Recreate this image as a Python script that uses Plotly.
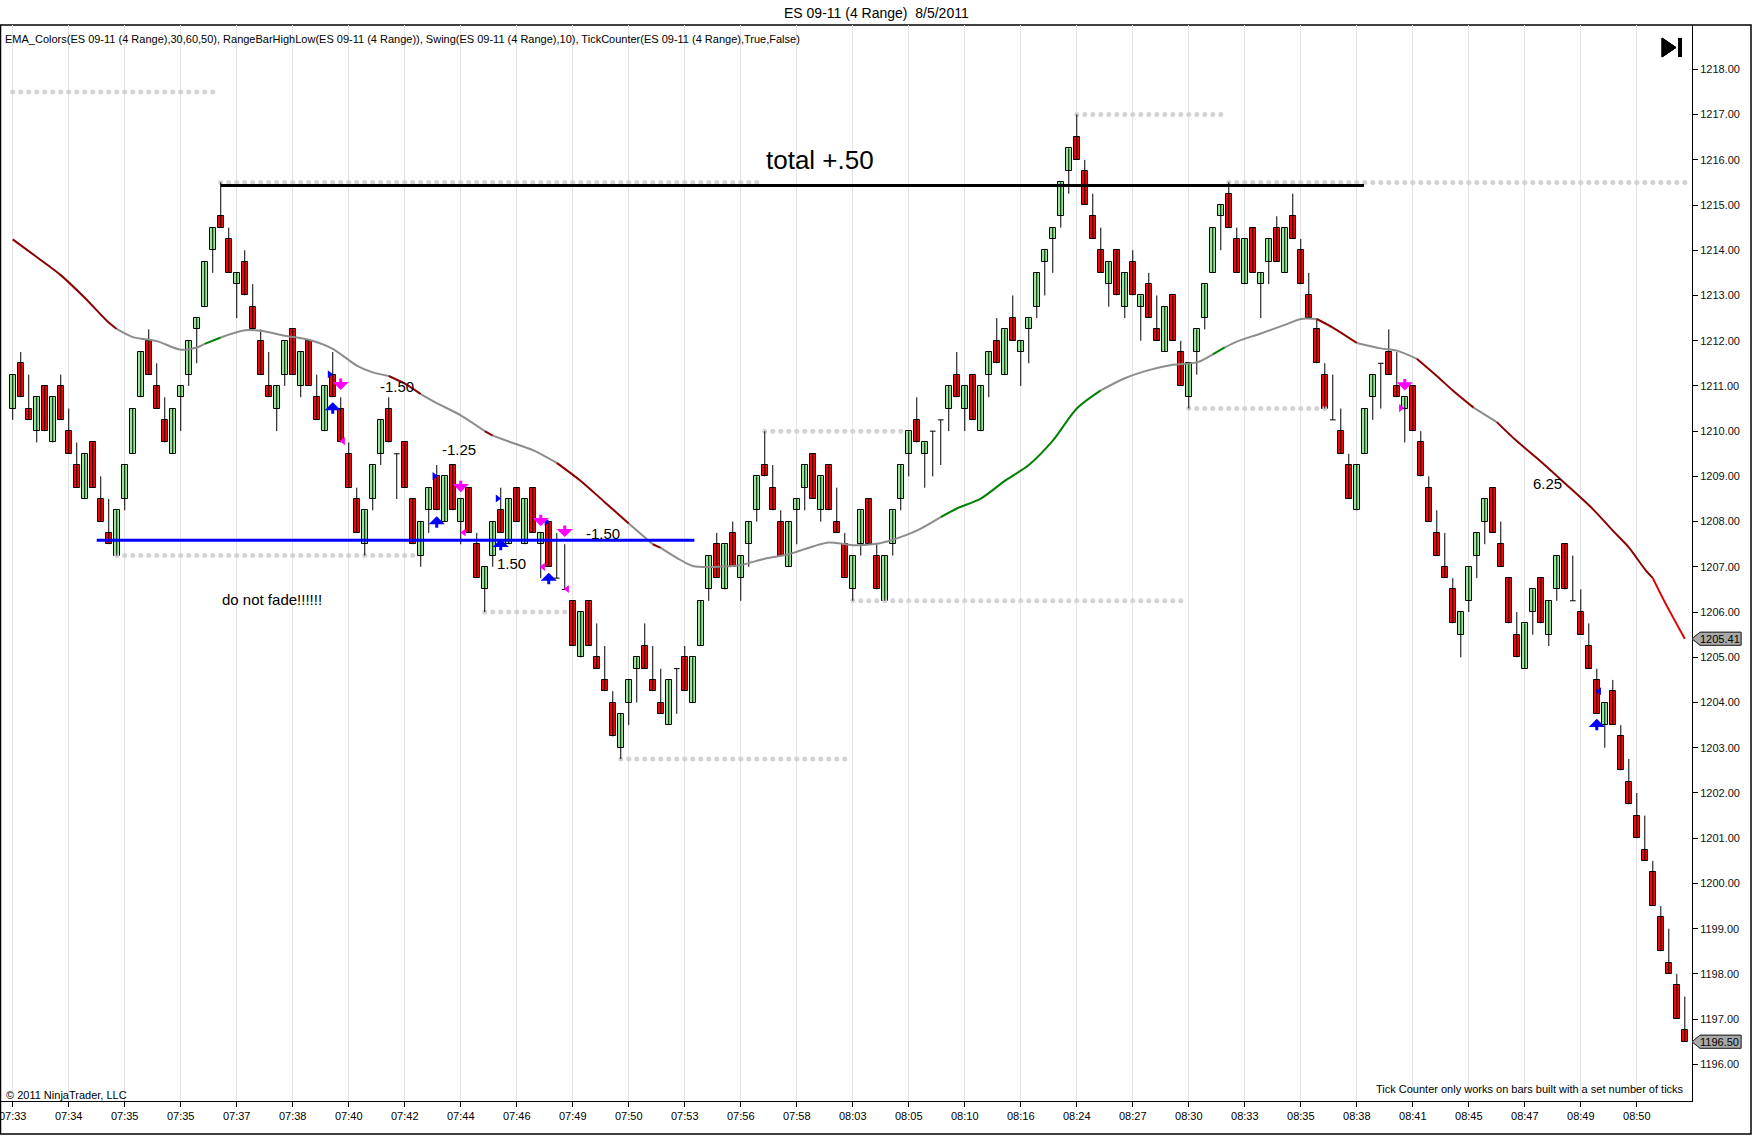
import plotly.graph_objects as go

# ---------------- data ----------------
opens = [1210.5, 1211.5, 1210.5, 1210.0, 1211.0, 1209.75, 1211.0, 1210.0, 1209.25, 1208.5,
         1209.75, 1208.5, 1207.75, 1207.25, 1208.5, 1209.5, 1210.75, 1212.0, 1211.0, 1210.25,
         1209.5, 1210.75, 1211.25, 1212.25, 1212.75, 1214.0, 1214.75, 1214.25, 1213.25, 1213.75,
         1212.75, 1212.0, 1211.0, 1210.5, 1211.25, 1212.25, 1211.0, 1212.0, 1210.75, 1210.0,
         1211.25, 1210.5, 1209.5, 1208.5, 1207.5, 1208.5, 1209.5, 1210.5, 1209.5, 1209.75,
         1208.5, 1207.25, 1208.25, 1209.0, 1208.0, 1209.25, 1208.0, 1208.75, 1207.5, 1206.5,
         1207.25, 1208.25, 1207.5, 1208.75, 1207.5, 1208.75, 1207.5, 1208.0, 1206.75, 1206.5,
         1206.25, 1205.0, 1206.25, 1205.0, 1204.5, 1204.0, 1203.0, 1204.0, 1204.75, 1205.25,
         1204.5, 1204.0, 1203.5, 1204.75, 1205.0, 1204.0, 1205.25, 1206.5, 1207.5, 1206.5,
         1207.75, 1206.75, 1207.5, 1208.25, 1209.25, 1208.75, 1208.0, 1207.0, 1208.25, 1208.75,
         1209.5, 1208.25, 1209.25, 1208.0, 1207.5, 1206.5, 1207.5, 1208.5, 1207.25, 1206.25,
         1207.5, 1208.5, 1209.5, 1210.25, 1209.5, 1210.0, 1210.25, 1210.5, 1211.25, 1210.5,
         1211.25, 1210.0, 1211.25, 1212.0, 1211.25, 1212.5, 1211.75, 1212.25, 1212.75, 1213.75,
         1214.25, 1214.75, 1215.75, 1216.5, 1215.75, 1214.75, 1214.0, 1213.25, 1214.0, 1212.75,
         1213.75, 1212.75, 1213.25, 1212.25, 1211.75, 1213.0, 1211.75, 1210.75, 1211.75, 1212.5,
         1213.5, 1214.75, 1215.25, 1214.25, 1213.25, 1214.5, 1213.25, 1213.75, 1214.5, 1213.5,
         1214.75, 1214.0, 1213.0, 1212.25, 1211.25, 1210.25, 1210.0, 1209.25, 1208.25, 1209.5,
         1210.75, 1211.5, 1211.75, 1211.0, 1210.5, 1211.0, 1209.75, 1208.75, 1207.75, 1207.0,
         1206.5, 1205.5, 1206.25, 1207.25, 1208.0, 1208.75, 1207.5, 1206.75, 1205.5, 1204.75,
         1206.0, 1206.75, 1205.5, 1206.5, 1207.5, 1206.25, 1206.0, 1205.25, 1204.5, 1203.5,
         1204.25, 1203.25, 1202.25, 1201.5, 1200.75, 1200.25, 1199.25, 1198.25, 1197.75, 1196.75]
highs = [1211.25, 1211.75, 1211.25, 1210.75, 1211.0, 1210.75, 1211.25, 1210.5, 1209.75, 1209.5,
         1209.75, 1209.0, 1208.5, 1208.25, 1209.25, 1210.5, 1211.75, 1212.25, 1211.5, 1210.75,
         1210.5, 1211.0, 1212.0, 1212.5, 1213.75, 1214.5, 1215.5, 1214.5, 1213.5, 1214.0,
         1213.25, 1212.25, 1211.75, 1211.0, 1212.0, 1212.25, 1211.75, 1212.0, 1211.25, 1211.0,
         1211.75, 1210.75, 1209.75, 1208.75, 1208.25, 1209.25, 1210.25, 1210.75, 1209.5, 1209.75,
         1208.5, 1208.0, 1208.75, 1209.25, 1209.0, 1209.25, 1208.5, 1208.75, 1207.75, 1207.0,
         1208.0, 1208.75, 1208.5, 1208.75, 1208.5, 1208.75, 1207.75, 1208.0, 1207.75, 1207.5,
         1206.25, 1206.0, 1206.25, 1205.75, 1205.25, 1204.25, 1203.75, 1204.5, 1205.0, 1205.75,
         1205.25, 1204.75, 1204.5, 1204.75, 1205.25, 1205.0, 1206.25, 1207.25, 1207.75, 1207.5,
         1208.0, 1207.25, 1208.0, 1209.0, 1210.0, 1209.25, 1208.25, 1208.0, 1208.5, 1209.25,
         1209.5, 1209.0, 1209.25, 1208.75, 1207.75, 1207.25, 1208.25, 1208.5, 1207.5, 1207.25,
         1208.25, 1209.25, 1210.0, 1210.75, 1209.75, 1210.0, 1210.25, 1211.0, 1211.75, 1211.0,
         1211.25, 1211.0, 1211.75, 1212.5, 1212.25, 1213.0, 1212.0, 1212.5, 1213.5, 1214.0,
         1214.5, 1215.5, 1216.25, 1217.0, 1216.0, 1215.25, 1214.5, 1213.75, 1214.0, 1213.5,
         1214.0, 1213.0, 1213.5, 1213.0, 1212.75, 1213.0, 1212.0, 1211.5, 1212.25, 1213.25,
         1214.5, 1215.0, 1215.5, 1214.5, 1214.25, 1214.5, 1213.5, 1214.25, 1214.75, 1214.5,
         1215.25, 1214.25, 1213.5, 1212.5, 1211.5, 1211.25, 1210.5, 1209.5, 1209.25, 1210.5,
         1211.25, 1211.5, 1212.25, 1211.75, 1210.75, 1211.0, 1210.0, 1209.0, 1208.25, 1207.75,
         1206.75, 1206.0, 1207.0, 1207.75, 1208.5, 1208.75, 1208.0, 1206.75, 1206.0, 1205.75,
         1206.5, 1206.75, 1206.25, 1207.25, 1207.5, 1207.25, 1206.5, 1205.75, 1204.75, 1204.0,
         1204.5, 1203.5, 1202.75, 1202.0, 1201.5, 1200.5, 1199.5, 1199.0, 1198.0, 1197.5]
lows = [1210.25, 1210.75, 1210.25, 1209.75, 1210.0, 1209.75, 1210.25, 1209.5, 1208.75, 1208.5,
        1208.75, 1208.0, 1207.5, 1207.25, 1208.25, 1209.5, 1210.75, 1211.25, 1210.5, 1209.75,
        1209.5, 1210.0, 1211.0, 1211.5, 1212.75, 1213.5, 1214.5, 1213.5, 1212.5, 1213.0,
        1212.25, 1211.25, 1210.75, 1210.0, 1211.0, 1211.25, 1210.75, 1211.0, 1210.25, 1210.0,
        1210.75, 1209.75, 1208.75, 1207.75, 1207.25, 1208.25, 1209.25, 1209.75, 1208.5, 1208.75,
        1207.5, 1207.0, 1207.75, 1208.25, 1208.0, 1208.25, 1207.5, 1207.75, 1206.75, 1206.0,
        1207.0, 1207.75, 1207.5, 1208.0, 1207.5, 1207.75, 1206.75, 1207.0, 1206.75, 1206.5,
        1205.25, 1205.0, 1205.25, 1204.75, 1204.25, 1203.25, 1202.75, 1203.5, 1204.0, 1204.75,
        1204.25, 1203.75, 1203.5, 1203.75, 1204.25, 1204.0, 1205.25, 1206.25, 1206.75, 1206.5,
        1207.0, 1206.25, 1207.0, 1208.0, 1209.0, 1208.25, 1207.25, 1207.0, 1207.5, 1208.25,
        1208.5, 1208.0, 1208.25, 1207.75, 1206.75, 1206.25, 1207.25, 1207.5, 1206.5, 1206.25,
        1207.25, 1208.25, 1209.0, 1209.75, 1208.75, 1209.0, 1209.25, 1210.0, 1210.75, 1210.0,
        1210.25, 1210.0, 1210.75, 1211.5, 1211.25, 1212.0, 1211.0, 1211.5, 1212.5, 1213.0,
        1213.5, 1214.5, 1215.25, 1216.0, 1215.0, 1214.25, 1213.5, 1212.75, 1213.0, 1212.5,
        1213.0, 1212.0, 1212.5, 1212.0, 1211.75, 1212.0, 1211.0, 1210.5, 1211.25, 1212.25,
        1213.5, 1214.0, 1214.5, 1213.5, 1213.25, 1213.5, 1212.5, 1213.25, 1213.75, 1213.5,
        1214.25, 1213.25, 1212.5, 1211.5, 1210.5, 1210.25, 1209.5, 1208.5, 1208.25, 1209.5,
        1210.25, 1210.5, 1211.25, 1210.75, 1209.75, 1210.0, 1209.0, 1208.0, 1207.25, 1206.75,
        1205.75, 1205.0, 1206.0, 1206.75, 1207.5, 1207.75, 1207.0, 1205.75, 1205.0, 1204.75,
        1205.5, 1205.75, 1205.25, 1206.25, 1206.5, 1206.25, 1205.5, 1204.75, 1203.75, 1203.0,
        1203.5, 1202.5, 1201.75, 1201.0, 1200.5, 1199.5, 1198.5, 1198.0, 1197.0, 1196.5]
closes = [1211.25, 1210.75, 1210.25, 1210.75, 1210.0, 1210.75, 1210.25, 1209.5, 1208.75, 1209.5,
          1208.75, 1208.0, 1207.5, 1208.25, 1209.25, 1210.5, 1211.75, 1211.25, 1210.5, 1209.75,
          1210.5, 1211.0, 1212.0, 1212.5, 1213.75, 1214.5, 1214.5, 1213.5, 1213.5, 1213.0,
          1212.25, 1211.25, 1210.75, 1211.0, 1212.0, 1211.25, 1211.75, 1211.0, 1210.25, 1211.0,
          1210.75, 1209.75, 1208.75, 1207.75, 1208.25, 1209.25, 1210.25, 1209.75, 1209.5, 1208.75,
          1207.5, 1208.0, 1208.75, 1208.25, 1209.0, 1208.25, 1208.5, 1207.75, 1206.75, 1207.0,
          1208.0, 1207.75, 1208.5, 1208.0, 1208.5, 1207.75, 1207.75, 1207.0, 1206.75, 1206.5,
          1205.25, 1206.0, 1205.25, 1204.75, 1204.25, 1203.25, 1203.75, 1204.5, 1205.0, 1204.75,
          1204.25, 1203.75, 1204.5, 1204.75, 1204.25, 1205.0, 1206.25, 1207.25, 1206.75, 1207.5,
          1207.0, 1207.25, 1208.0, 1209.0, 1209.0, 1208.25, 1207.25, 1208.0, 1208.5, 1209.25,
          1208.5, 1209.0, 1208.25, 1207.75, 1206.75, 1207.25, 1208.25, 1207.5, 1206.5, 1207.25,
          1208.25, 1209.25, 1210.0, 1209.75, 1209.75, 1210.0, 1210.25, 1211.0, 1210.75, 1211.0,
          1210.25, 1211.0, 1211.75, 1211.5, 1212.25, 1212.0, 1212.0, 1212.5, 1213.5, 1214.0,
          1214.5, 1215.5, 1216.25, 1216.0, 1215.0, 1214.25, 1213.5, 1213.75, 1213.0, 1213.5,
          1213.0, 1213.0, 1212.5, 1212.0, 1212.75, 1212.0, 1211.0, 1211.5, 1212.25, 1213.25,
          1214.5, 1215.0, 1214.5, 1213.5, 1214.25, 1213.5, 1213.5, 1214.25, 1213.75, 1214.5,
          1214.25, 1213.25, 1212.5, 1211.5, 1210.5, 1210.25, 1209.5, 1208.5, 1209.25, 1210.5,
          1211.25, 1211.5, 1211.25, 1210.75, 1210.75, 1210.0, 1209.0, 1208.0, 1207.25, 1206.75,
          1205.75, 1206.0, 1207.0, 1207.75, 1208.5, 1207.75, 1207.0, 1205.75, 1205.0, 1205.75,
          1206.5, 1205.75, 1206.25, 1207.25, 1206.5, 1206.25, 1205.5, 1204.75, 1203.75, 1204.0,
          1203.5, 1202.5, 1201.75, 1201.0, 1200.5, 1199.5, 1198.5, 1198.0, 1197.0, 1196.5]

time_labels = ["07:33", "07:34", "07:35", "07:35", "07:37", "07:38", "07:40", "07:42", "07:44", "07:46",
               "07:49", "07:50", "07:53", "07:56", "07:58", "08:03", "08:05", "08:10", "08:16", "08:24",
               "08:27", "08:30", "08:33", "08:35", "08:38", "08:41", "08:45", "08:47", "08:49", "08:50"]
bars_per_label = 7

# EMA(50) (bar index, value) and its colour segments
ema_x = [0, 3, 6, 9, 12, 13, 15, 18, 21, 23, 24, 26, 29, 31, 34, 37, 40, 43, 45, 47,
         49, 51, 53, 56, 59, 60, 62, 65, 68, 71, 74, 77, 80, 81, 83, 85, 88, 91, 94, 97,
         100, 102, 105, 108, 110, 113, 116, 118, 121, 124, 127, 130, 133, 136, 139, 142, 145, 148, 150, 151.5,
         153, 156, 159, 161, 163, 165, 168, 171, 173, 175.5, 178, 180, 182.6, 185.5, 188, 191, 194, 197.6, 200, 202,
         204, 205, 206.5, 209]
ema_y = [1214.24, 1213.85, 1213.45, 1212.95, 1212.4, 1212.26, 1212.08, 1211.99, 1211.8, 1211.85,
         1211.93, 1212.07, 1212.23, 1212.22, 1212.11, 1212.02, 1211.82, 1211.45, 1211.3, 1211.22,
         1211.05, 1210.82, 1210.62, 1210.35, 1210.0, 1209.9, 1209.77, 1209.58, 1209.3, 1208.9,
         1208.43, 1207.96, 1207.5, 1207.42, 1207.2, 1207.02, 1207.0, 1207.04, 1207.18, 1207.28,
         1207.45, 1207.54, 1207.48, 1207.51, 1207.6, 1207.8, 1208.1, 1208.29, 1208.51, 1208.9,
         1209.25, 1209.79, 1210.5, 1210.9, 1211.17, 1211.35, 1211.47, 1211.52, 1211.7, 1211.85,
         1211.98, 1212.16, 1212.35, 1212.48, 1212.48, 1212.29, 1211.95, 1211.83, 1211.78, 1211.6,
         1211.22, 1210.9, 1210.52, 1210.2, 1209.78, 1209.33, 1208.85, 1208.26, 1207.8, 1207.43,
         1206.95, 1206.75, 1206.22, 1205.41]
ema_seg_start = [0, 13, 24, 26, 47, 51, 59, 60, 68, 77, 80, 81, 116, 136, 150, 151.5, 163, 168, 175.5, 182.6, 185.5, 205]
ema_seg_end = [13, 24, 26, 47, 51, 59, 60, 68, 77, 80, 81, 116, 136, 150, 151.5, 163, 168, 175.5, 182.6, 185.5, 205, 209]
ema_seg_color = ["#8b0000", "#8c8c8c", "#008000", "#8c8c8c", "#8b0000", "#8c8c8c", "#8b0000", "#8c8c8c",
                 "#8b0000", "#8c8c8c", "#8b0000", "#8c8c8c", "#008000", "#8c8c8c", "#008000", "#8c8c8c",
                 "#8b0000", "#8c8c8c", "#8b0000", "#8c8c8c", "#8b0000", "#e00000"]

# Swing dots (start bar, end bar, price)
swing_start = [0, 26, 13, 59, 76, 94, 105, 133, 147, 152]
swing_end = [25, 93, 50, 69, 104, 111, 146, 151, 164, 209]
swing_price = [1217.5, 1215.5, 1207.25, 1206.0, 1202.75, 1210.0, 1206.25, 1217.0, 1210.5, 1215.5]

# Drawn lines
black_line = dict(start=26, end=168.9, price=1215.43)
blue_line = dict(start=10.5, end=85.2, price=1207.59)

# Trade markers
up_arrow_x = [40, 53, 61, 67, 198]
up_arrow_y = [1210.64, 1208.12, 1207.62, 1206.87, 1203.64]
down_arrow_x = [41, 56, 66, 69, 174]
down_arrow_y = [1210.91, 1208.65, 1207.9, 1207.66, 1210.9]
blue_tri_x = [39.6, 52.7, 60.6, 66.7]
blue_tri_y = [1211.26, 1209.01, 1208.51, 1208.0]
blue_tri_left_x = [198.3]
blue_tri_left_y = [1204.25]
mag_tri_left_x = [41.3, 56.4, 66.3, 69.3]
mag_tri_left_y = [1209.78, 1207.76, 1207.0, 1206.51]
mag_tri_right_x = [173.5]
mag_tri_right_y = [1210.51]

# Text notes
note_text = ["-1.50", "-1.25", "1.50", "-1.50", "do not fade!!!!!!", "6.25"]
note_x = [48, 55.8, 62.3, 73.8, 32.4, 191.8]
note_y = [1210.99, 1209.6, 1207.07, 1207.73, 1206.28, 1208.84]
total_text = "total +.50"
total_x, total_y = 100.9, 1215.99

last_ema = 1205.41
last_close = 1196.50

y_ticks = list(range(1196, 1219))
grid_levels = [1196, 1199, 1202, 1205, 1208, 1211, 1214, 1217]

indicator_text = ("EMA_Colors(ES 09-11 (4 Range),30,60,50), RangeBarHighLow(ES 09-11 (4 Range)), "
                  "Swing(ES 09-11 (4 Range),10), TickCounter(ES 09-11 (4 Range),True,False)")
title_text = "ES 09-11 (4 Range)  8/5/2011"

# ---------------- layout constants ----------------
W, H = 1752, 1147
PL, PR, PT, PB = 0, 1692, 25, 1101          # plot area in px
X_RANGE = [-1.59, 209.9]
Y_RANGE = [1195.19, 1218.98]
FONT = "Liberation Sans, Arial, sans-serif"
BODY_W = 0.72

def px_x(px):
    return (px - PL) / (PR - PL)

def px_y(py):
    return (PB - py) / (PB - PT)

def price_to_paper(p):
    return (p - Y_RANGE[0]) / (Y_RANGE[1] - Y_RANGE[0])

fig = go.Figure()
n = len(closes)

# horizontal grid lines
for g in grid_levels:
    fig.add_shape(type="line", xref="x", yref="y", x0=X_RANGE[0], x1=X_RANGE[1], y0=g, y1=g,
                  line=dict(color="#e3e3e3", width=1), layer="below")

# swing dots
for s, e, p in zip(swing_start, swing_end, swing_price):
    xs = list(range(s, e + 1))
    fig.add_trace(go.Scatter(x=xs, y=[p] * len(xs), mode="markers",
                             marker=dict(color="#d3d3d3", size=5), hoverinfo="skip", showlegend=False))

# wicks
wx, wy = [], []
for i in range(n):
    wx += [i, i, None]
    wy += [lows[i], highs[i], None]
fig.add_trace(go.Scatter(x=wx, y=wy, mode="lines", line=dict(color="black", width=1),
                         hoverinfo="skip", showlegend=False))

up = [i for i in range(n) if closes[i] > opens[i]]
dn = [i for i in range(n) if closes[i] < opens[i]]
dj = [i for i in range(n) if closes[i] == opens[i]]
fig.add_trace(go.Bar(x=up, base=[opens[i] for i in up], y=[closes[i] - opens[i] for i in up],
                     width=BODY_W, marker=dict(color="#90ee90", line=dict(color="black", width=1)),
                     hoverinfo="skip", showlegend=False))
fig.add_trace(go.Bar(x=dn, base=[closes[i] for i in dn], y=[opens[i] - closes[i] for i in dn],
                     width=BODY_W, marker=dict(color="#ff0000", line=dict(color="black", width=1)),
                     hoverinfo="skip", showlegend=False))
djx, djy = [], []
for i in dj:
    djx += [i - BODY_W / 2, i + BODY_W / 2, None]
    djy += [opens[i], opens[i], None]
fig.add_trace(go.Scatter(x=djx, y=djy, mode="lines", line=dict(color="black", width=1),
                         hoverinfo="skip", showlegend=False))

# EMA segments
for s, e, c in zip(ema_seg_start, ema_seg_end, ema_seg_color):
    xs = [x for x in ema_x if s <= x <= e]
    ys = [y for x, y in zip(ema_x, ema_y) if s <= x <= e]
    fig.add_trace(go.Scatter(x=xs, y=ys, mode="lines",
                             line=dict(color=c, width=2, shape="spline", smoothing=0.8),
                             hoverinfo="skip", showlegend=False))

# drawn lines
fig.add_trace(go.Scatter(x=[blue_line["start"], blue_line["end"]], y=[blue_line["price"]] * 2,
                         mode="lines", line=dict(color="#0000ff", width=3), hoverinfo="skip", showlegend=False))
fig.add_trace(go.Scatter(x=[black_line["start"], black_line["end"]], y=[black_line["price"]] * 2,
                         mode="lines", line=dict(color="black", width=3), hoverinfo="skip", showlegend=False))

# triangles
fig.add_trace(go.Scatter(x=blue_tri_x, y=blue_tri_y, mode="markers",
                         marker=dict(symbol="triangle-right", color="#0000ff", size=7), hoverinfo="skip", showlegend=False))
fig.add_trace(go.Scatter(x=blue_tri_left_x, y=blue_tri_left_y, mode="markers",
                         marker=dict(symbol="triangle-left", color="#0000ff", size=7), hoverinfo="skip", showlegend=False))
fig.add_trace(go.Scatter(x=mag_tri_left_x, y=mag_tri_left_y, mode="markers",
                         marker=dict(symbol="triangle-left", color="#ff00ff", size=7), hoverinfo="skip", showlegend=False))
fig.add_trace(go.Scatter(x=mag_tri_right_x, y=mag_tri_right_y, mode="markers",
                         marker=dict(symbol="triangle-right", color="#ff00ff", size=7), hoverinfo="skip", showlegend=False))

annotations = []
for x, y in zip(up_arrow_x, up_arrow_y):
    annotations.append(dict(x=x, y=y, xref="x", yref="y", text="", showarrow=True, ax=0, ay=13,
                            arrowhead=1, arrowsize=0.9, arrowwidth=3, arrowcolor="#0000ff", standoff=0))
for x, y in zip(down_arrow_x, down_arrow_y):
    annotations.append(dict(x=x, y=y, xref="x", yref="y", text="", showarrow=True, ax=0, ay=-13,
                            arrowhead=1, arrowsize=0.9, arrowwidth=3, arrowcolor="#ff00ff", standoff=0))
for t, x, y in zip(note_text, note_x, note_y):
    annotations.append(dict(x=x, y=y, xref="x", yref="y", text=t, showarrow=False,
                            xanchor="center", yanchor="middle",
                            font=dict(family=FONT, size=15, color="black")))
annotations.append(dict(x=total_x, y=total_y, xref="x", yref="y", text=total_text, showarrow=False,
                        xanchor="center", yanchor="middle",
                        font=dict(family=FONT, size=26, color="black")))

# header / footer texts
annotations.append(dict(x=px_x(876), y=px_y(13), xref="paper", yref="paper", text=title_text,
                        xanchor="center", yanchor="middle",
                        showarrow=False, font=dict(family=FONT, size=14, color="black")))
annotations.append(dict(x=px_x(3), y=px_y(39), xref="paper", yref="paper", text=indicator_text,
                        xanchor="left", yanchor="middle",
                        showarrow=False, font=dict(family=FONT, size=11, color="black")))
annotations.append(dict(x=px_x(4), y=px_y(1095), xref="paper", yref="paper", text="© 2011 NinjaTrader, LLC",
                        xanchor="left", yanchor="middle",
                        showarrow=False, font=dict(family=FONT, size=11, color="black")))
annotations.append(dict(x=px_x(1686), y=px_y(1089), xref="paper", yref="paper",
                        text="Tick Counter only works on bars built with a set number of ticks",
                        xanchor="right", yanchor="middle",
                        showarrow=False, font=dict(family=FONT, size=11, color="black")))

shapes = []
# price flags on the axis
half_h = 6.5 / (PB - PT)
for p in [last_ema, last_close]:
    yc = price_to_paper(p)
    x_tip, x_b, x_r = px_x(1692), px_x(1700), px_x(1741)
    path = (f"M {x_tip},{yc} L {x_b},{yc + half_h} L {x_r},{yc + half_h} "
            f"L {x_r},{yc - half_h} L {x_b},{yc - half_h} Z")
    shapes.append(dict(type="path", xref="paper", yref="paper", path=path,
                       fillcolor="#a8a8a8", line=dict(color="#333333", width=1), layer="above"))
    annotations.append(dict(x=px_x(1720), y=p, xref="paper", yref="y", text=f"{p:.2f}",
                            xanchor="center", yanchor="middle",
                            showarrow=False, font=dict(family=FONT, size=11, color="black")))

# play-to-end icon
tri = (f"M {px_x(1662)},{px_y(38)} L {px_x(1662)},{px_y(57)} L {px_x(1676)},{px_y(47.5)} Z")
shapes.append(dict(type="path", xref="paper", yref="paper", path=tri, fillcolor="black",
                   line=dict(color="black", width=1)))
shapes.append(dict(type="rect", xref="paper", yref="paper", x0=px_x(1678), x1=px_x(1682),
                   y0=px_y(57), y1=px_y(38), fillcolor="black", line=dict(color="black", width=0)))
# outer frame
shapes.append(dict(type="rect", xref="paper", yref="paper", x0=px_x(0.5), x1=px_x(1751),
                   y0=px_y(1134), y1=px_y(25), line=dict(color="black", width=1.5), fillcolor="rgba(0,0,0,0)"))

tickvals = [k * bars_per_label for k in range(len(time_labels))]

fig.update_layout(
    width=W, height=H,
    margin=dict(l=PL, r=W - PR, t=PT, b=H - PB, pad=0),
    paper_bgcolor="white", plot_bgcolor="white",
    barmode="overlay", bargap=0,
    showlegend=False,
    font=dict(family=FONT, size=11, color="black"),
    annotations=annotations, shapes=shapes,
    xaxis=dict(range=X_RANGE, tickvals=tickvals, ticktext=time_labels, showgrid=True,
               gridcolor="#e3e3e3", gridwidth=1, zeroline=False, showline=True, linecolor="black",
               linewidth=1, ticks="outside", ticklen=5, tickcolor="black", ticklabeloverflow="allow",
               tickfont=dict(family=FONT, size=11, color="black"), fixedrange=True),
    yaxis=dict(range=Y_RANGE, side="right", tickvals=y_ticks, tickformat=".2f", showgrid=False,
               zeroline=False, showline=True, linecolor="black", linewidth=1, ticks="outside",
               ticklen=5, tickcolor="black", tickfont=dict(family=FONT, size=11, color="#111111"),
               ticklabeloverflow="allow", fixedrange=True),
)

fig.write_html("out.html", config={"displayModeBar": False},
               post_script="document.body.style.margin='0';document.body.style.overflow='hidden';")
